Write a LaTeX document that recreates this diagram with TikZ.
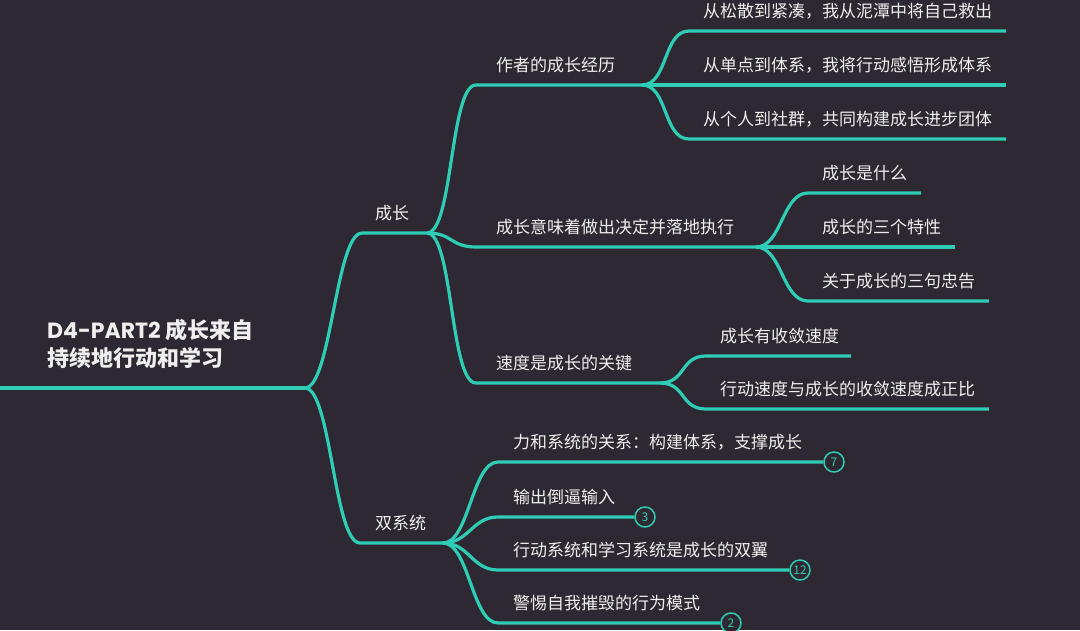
\documentclass[tikz,border=0pt]{standalone}
\usepackage{fontspec}
\setmainfont{Noto Sans CJK SC}
\newfontfamily\poppins{Poppins}
\usetikzlibrary{positioning}
\definecolor{mbg}{HTML}{2D2831}
\definecolor{mteal}{HTML}{2FCDB6}
\definecolor{mtext}{HTML}{EFEFEF}
\tikzset{
  link/.style={mteal, line width=3.2pt},
  fan/.style={to path={.. controls ([xshift=26pt]\tikztostart) and ([xshift=-26pt]\tikztotarget) .. (\tikztotarget)}},
  leaf/.style={text=mtext, inner sep=0pt, anchor=base west},
  rootlbl/.style={text=mtext, inner sep=0pt, anchor=base west, font=\fontsize{22}{26}\selectfont\bfseries},
  badge/.style={circle, draw=mteal, line width=1.5pt, fill=mbg, text=mteal, minimum size=20pt,
    inner sep=0pt, font=\fontsize{12}{13}\selectfont}
}

\begin{document}
\begin{tikzpicture}[x=1pt, y=-1pt, font=\fontsize{17}{20}\selectfont]
\fill[mbg] (0,0) rectangle (1080,630);
\useasboundingbox (0,0) rectangle (1080,630);
% ---------- root ----------
\coordinate (rootin) at (0,388);
\coordinate (root) at (305,388);
\node[rootlbl] (root1) at (47,338) {{\poppins D4-PART2} 成长来自};
\node[rootlbl] (root2) at (47,366) {持续地行动和学习};
\draw[link] (rootin) -- (root);
% ---------- first level ----------
\coordinate (gs) at (362,233); \coordinate (ge) at (427,233);
\node[leaf] (grow) at (375,219.5) {成长};
\draw[link] (root) to[fan] (gs) -- (ge);
\coordinate (ds) at (360,543); \coordinate (de) at (443,543);
\node[leaf] (dual) at (375,529.5) {双系统};
\draw[link] (root) to[fan] (ds) -- (de);
% ---------- under grow ----------
\coordinate (as) at (476,85);  \coordinate (ae) at (642,85);
\node[leaf] (author) at (496,71.5) {作者的成长经历};
\draw[link] (ge) to[fan] (as) -- (ae);
\coordinate (ms) at (476,247); \coordinate (me) at (756,247);
\node[leaf] (mean) at (496,233.5) {成长意味着做出决定并落地执行};
\draw[link] (ge) to[fan] (ms) -- (me);
\coordinate (vs) at (476,383); \coordinate (ve) at (660,383);
\node[leaf] (speed) at (496,369.5) {速度是成长的关键};
\draw[link] (ge) to[fan] (vs) -- (ve);
% ---------- leaves ----------
\foreach \n/\y/\e/\txt in {a1/31/1006/从松散到紧凑，我从泥潭中将自己救出,
    a2/85/1006/从单点到体系，我将行动感悟形成体系,
    a3/139/1006/从个人到社群，共同构建成长进步团体}{
  \coordinate (\n s) at (689,\y); \coordinate (\n e) at (\e,\y);
  \node[leaf] (\n) at (703,\y-13.5) {\txt};
  \draw[link] (ae) to[fan] (\n s) -- (\n e);
}
\foreach \n/\y/\e/\txt in {m1/193/921/成长是什么, m2/247/955/成长的三个特性,
    m3/301/989/关于成长的三句忠告}{
  \coordinate (\n s) at (808,\y); \coordinate (\n e) at (\e,\y);
  \node[leaf] (\n) at (822,\y-13.5) {\txt};
  \draw[link] (me) to[fan] (\n s) -- (\n e);
}
\foreach \n/\y/\e/\txt in {v1/356/851/成长有收敛速度, v2/409/989/行动速度与成长的收敛速度成正比}{
  \coordinate (\n s) at (706,\y); \coordinate (\n e) at (\e,\y);
  \node[leaf] (\n) at (720,\y-13.5) {\txt};
  \draw[link] (ve) to[fan] (\n s) -- (\n e);
}
% ---------- under dual, with counts ----------
\foreach \n/\y/\c/\k/\txt in {d1/462/834/7/力和系统的关系：构建体系，支撑成长,
    d2/517/645/3/输出倒逼输入, d3/570/800/12/行动系统和学习系统是成长的双翼,
    d4/623/731/2/警惕自我摧毁的行为模式}{
  \coordinate (\n s) at (498,\y);
  \node[leaf] (\n) at (513,\y-13.5) {\txt};
  \node[badge] (\n k) at (\c,\y) {\k};
  \draw[link] (de) to[fan] (\n s) -- (\n k);
}
\end{tikzpicture}
\end{document}
